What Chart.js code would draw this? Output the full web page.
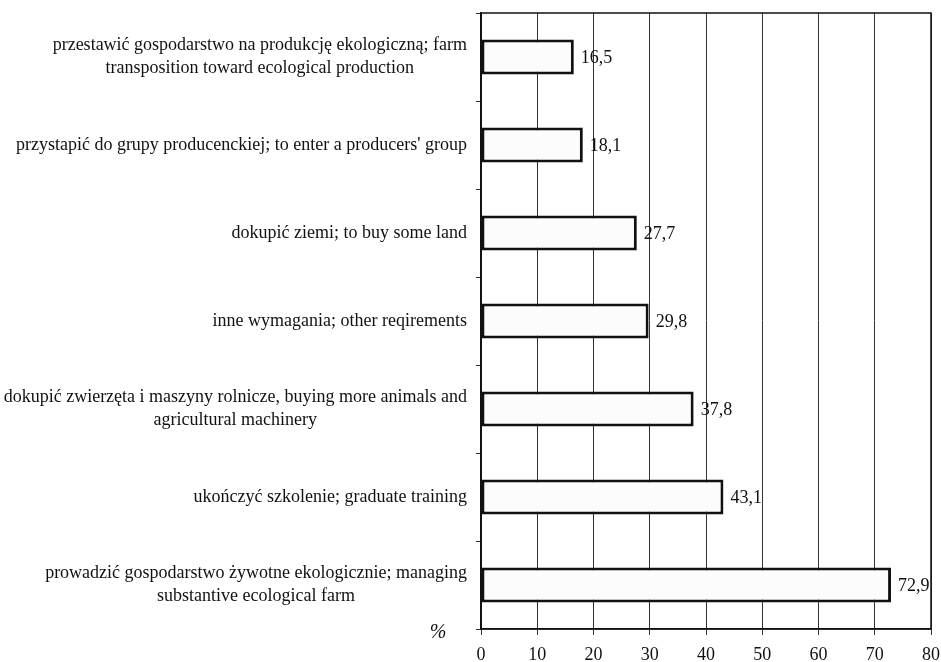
<!DOCTYPE html>
<html>
<head>
<meta charset="utf-8">
<script src="https://cdn.jsdelivr.net/npm/chart.js@4/dist/chart.umd.min.js"></script>
<style>
  html, body { margin: 0; padding: 0; background: #fff; }
  #wrap { width: 941px; height: 662px; }
</style>
</head>
<body>
<div id="wrap"><canvas id="myChart"></canvas></div>
<script>
'use strict';

let labels = [
  ['przestawić gospodarstwo na produkcję ekologiczną; farm', 'transposition toward ecological production'],
  ['przystapić do grupy producenckiej; to enter a producers\' group'],
  ['dokupić ziemi; to buy some land'],
  ['inne wymagania; other reqirements'],
  ['dokupić zwierzęta i maszyny rolnicze, buying more animals and', 'agricultural machinery'],
  ['ukończyć szkolenie; graduate training'],
  ['prowadzić gospodarstwo żywotne ekologicznie; managing', 'substantive ecological farm']
];
let values = [16.5, 18.1, 27.7, 29.8, 37.8, 43.1, 72.9];
let valueTexts = ['16,5', '18,1', '27,7', '29,8', '37,8', '43,1', '72,9'];
let xTicks = [0, 10, 20, 30, 40, 50, 60, 70, 80];

const serif = '"Liberation Serif", "Times New Roman", serif';

// draws the category labels (two-line ones centred on each other), value labels and the frame
let extrasPlugin = {
  id: 'extras',
  afterDraw(chart) {
    let ctx = chart.ctx;
    let area = chart.chartArea;
    let yScale = chart.scales.y;
    ctx.save();
    ctx.fillStyle = '#111';
    ctx.font = '18px ' + serif;
    ctx.textBaseline = 'middle';

    let rightEdge = area.left - 14;
    let lineH = 23;
    for (let i = 0; i < labels.length; i++) {
      let lines = labels[i];
      let yc = yScale.getPixelForTick(i);
      let maxW = 0;
      for (let j = 0; j < lines.length; j++) {
        maxW = Math.max(maxW, ctx.measureText(lines[j]).width);
      }
      let cx = rightEdge - maxW / 2;
      ctx.textAlign = 'center';
      for (let j = 0; j < lines.length; j++) {
        let y = yc + (j - (lines.length - 1) / 2) * lineH;
        ctx.fillText(lines[j], cx, y);
      }
    }

    let meta = chart.getDatasetMeta(0);
    ctx.textAlign = 'left';
    for (let i = 0; i < meta.data.length; i++) {
      let bar = meta.data[i];
      ctx.fillText(valueTexts[i], bar.x + 7, bar.y + 1);
    }

    ctx.font = 'italic 20px ' + serif;
    ctx.textAlign = 'center';
    ctx.fillText('%', 438, 633);

    ctx.strokeStyle = '#111';
    ctx.lineWidth = 1.5;
    ctx.strokeRect(area.left, area.top, area.right - area.left, area.bottom - area.top);
    ctx.restore();
  }
};

let canvasChart = document.getElementById('myChart').getContext('2d');

const config = {
  type: 'bar',
  data: {
    labels: labels,
    datasets: [{
      data: values,
      backgroundColor: '#fcfcfc',
      borderColor: '#111',
      borderWidth: 3,
      borderSkipped: false,
      categoryPercentage: 1,
      barPercentage: 0.4
    }]
  },
  options: {
    indexAxis: 'y',
    responsive: true,
    maintainAspectRatio: false,
    animation: false,
    layout: { padding: { top: 13, right: 10, bottom: 0, left: 0 } },
    plugins: {
      legend: { display: false },
      tooltip: { enabled: false }
    },
    scales: {
      x: {
        type: 'linear',
        min: 0,
        max: 80,
        afterBuildTicks(scale) {
          scale.ticks = xTicks.map(v => ({ value: v }));
        },
        afterFit(scale) {
          scale.height = 33;
          scale.paddingRight = 0;
          scale.paddingLeft = 0;
        },
        grid: {
          color: '#333',
          lineWidth: 1,
          tickLength: 6
        },
        border: { color: '#111', width: 1.5 },
        ticks: {
          color: '#111',
          padding: 9,
          font: { family: serif, size: 18 }
        }
      },
      y: {
        afterFit(scale) {
          scale.width = 481;
        },
        grid: {
          offset: true,
          drawOnChartArea: false,
          color: '#333',
          tickLength: 5
        },
        border: { color: '#111', width: 1.5 },
        ticks: { display: false }
      }
    }
  },
  plugins: [extrasPlugin]
};

// eslint-disable-next-line no-unused-vars, no-undef
const myChart = new Chart(canvasChart, config);
</script>
</body>
</html>
